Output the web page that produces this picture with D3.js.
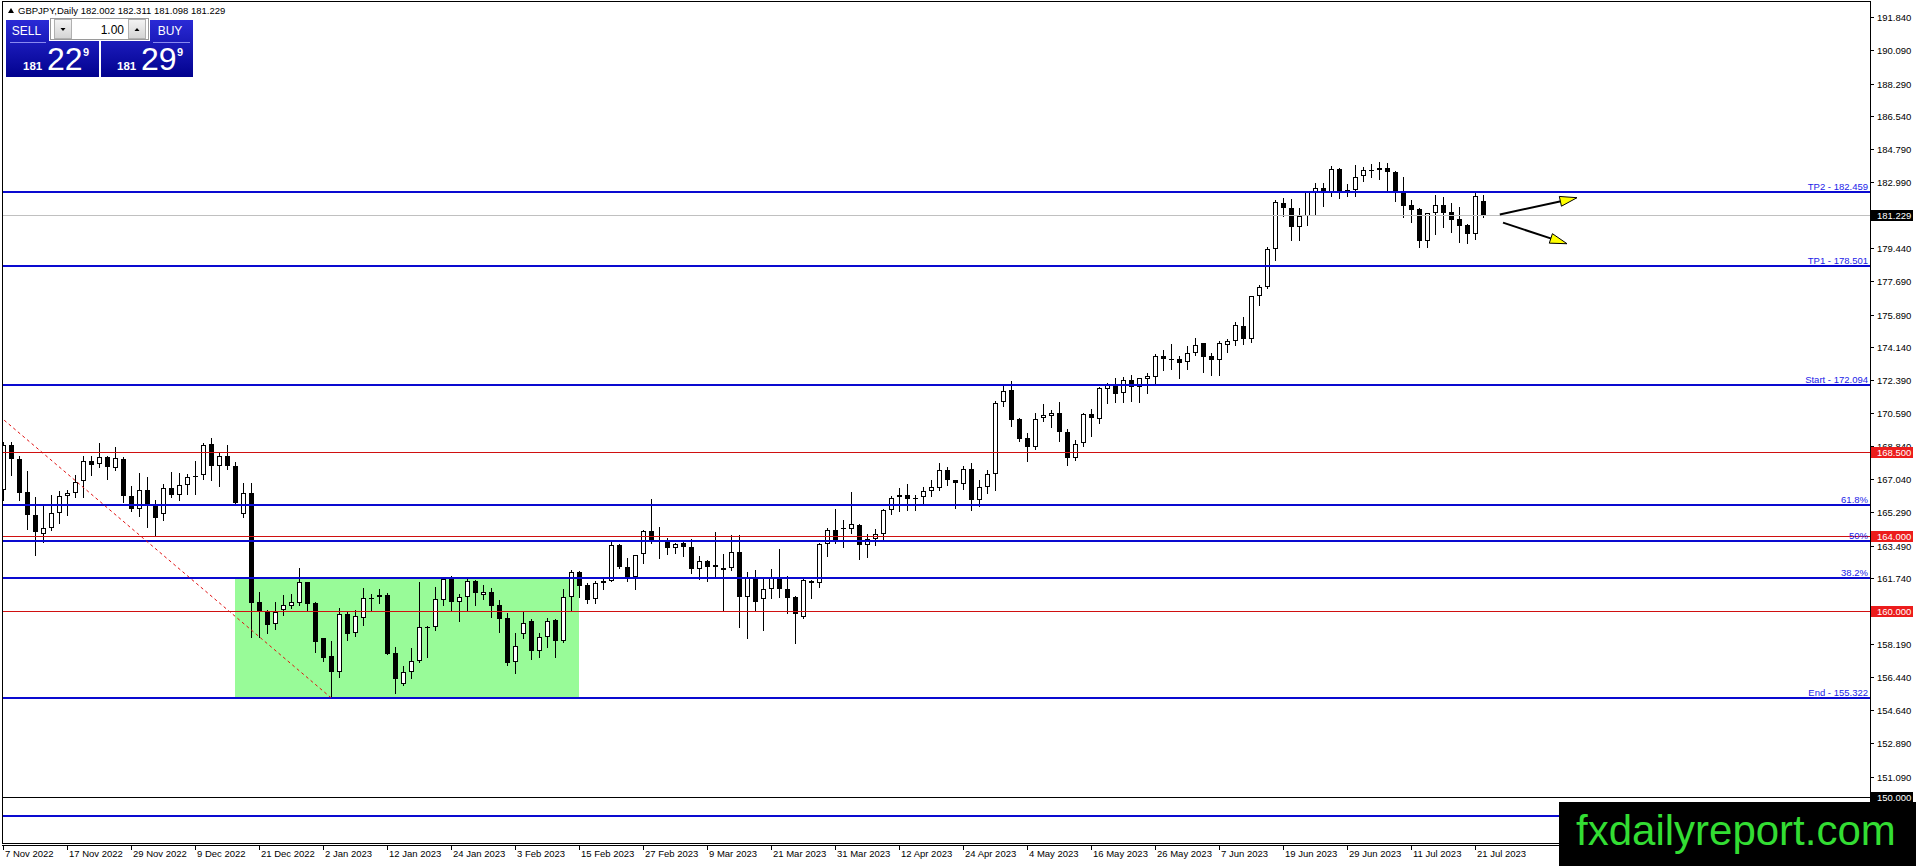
<!DOCTYPE html>
<html>
<head>
<meta charset="utf-8">
<script src="https://cdn.jsdelivr.net/npm/d3@7"></script>
<style>
  html, body { margin: 0; padding: 0; background: #fff; overflow: hidden; }
  svg { display: block; font-family: 'Liberation Sans', Arial, sans-serif; }
</style>
</head>
<body>
<div id="chart"></div>
<script>
const symbol = 'GBPJPY,Daily';

// one label every 8 daily bars, first bar = 7 Nov 2022
const dateLabels = [
  '7 Nov 2022', '17 Nov 2022', '29 Nov 2022', '9 Dec 2022', '21 Dec 2022',
  '2 Jan 2023', '12 Jan 2023', '24 Jan 2023', '3 Feb 2023', '15 Feb 2023',
  '27 Feb 2023', '9 Mar 2023', '21 Mar 2023', '31 Mar 2023', '12 Apr 2023',
  '24 Apr 2023', '4 May 2023', '16 May 2023', '26 May 2023', '7 Jun 2023',
  '19 Jun 2023', '29 Jun 2023', '11 Jul 2023', '21 Jul 2023',
];

const opens = [
  166.49, 168.91, 168.14, 166.38, 165.13, 164.11, 164.41, 165.24, 166.13, 166.31,
  166.94, 168.03, 167.87, 168.25, 167.64, 168.14, 166.13, 165.45, 166.46, 165.66,
  165.19, 166.58, 166.2, 166.74, 167.24, 167.26, 168.96, 167.74, 168.32, 167.78,
  165.19, 166.31, 160.45, 160.0, 159.27, 160.04, 160.23, 160.43, 161.52, 160.39,
  158.51, 157.56, 156.72, 159.82, 158.78, 159.59, 160.67, 160.72, 160.84, 157.71,
  156.04, 156.68, 157.28, 159.1, 159.1, 160.57, 161.69, 160.48, 160.72, 161.6,
  160.82, 160.98, 160.29, 159.59, 157.24, 158.74, 159.44, 157.81, 158.56, 159.48,
  158.38, 160.75, 162.06, 161.38, 160.61, 161.47, 161.58, 163.51, 162.33, 161.79,
  163.03, 164.28, 163.68, 163.8, 163.36, 163.62, 163.41, 162.22, 162.66, 162.33,
  162.19, 162.28, 163.14, 160.72, 161.79, 160.64, 161.15, 161.79, 161.15, 160.73,
  159.66, 161.6, 161.47, 163.59, 164.32, 164.41, 164.38, 164.61, 163.5, 163.84,
  164.09, 165.42, 166.08, 166.2, 166.04, 166.1, 166.4, 166.56, 167.57, 167.03,
  166.78, 167.6, 165.92, 166.63, 167.33, 171.2, 171.82, 170.26, 169.24, 168.77,
  170.33, 170.44, 170.61, 169.6, 168.2, 169.0, 170.53, 170.28, 171.91, 172.12,
  171.69, 172.39, 171.99, 172.45, 172.55, 173.65, 173.52, 173.52, 173.34, 173.82,
  174.34, 173.65, 173.47, 174.28, 174.49, 175.26, 174.6, 176.86, 177.39, 179.4,
  181.87, 181.59, 180.6, 181.2, 182.45, 182.68, 182.45, 183.71, 182.56, 182.6,
  183.31, 183.66, 183.67, 183.78, 183.53, 182.54, 181.77, 181.55, 179.85, 181.33,
  181.77, 181.37, 181.02, 180.69, 180.22, 182.002,
];

const highs = [
  169.04, 169.04, 168.28, 167.48, 166.1, 165.63, 166.22, 166.4, 166.46, 167.3,
  168.28, 168.3, 169.0, 168.3, 168.79, 168.25, 166.67, 167.39, 167.17, 165.95,
  166.79, 167.46, 167.39, 167.35, 168.03, 169.0, 169.27, 168.46, 168.86, 168.0,
  166.85, 166.85, 160.99, 160.05, 160.48, 160.81, 160.9, 162.28, 161.55, 160.48,
  158.55, 158.37, 160.13, 160.0, 160.04, 161.2, 160.9, 161.15, 160.93, 158.03,
  157.02, 157.97, 161.51, 159.17, 161.29, 161.74, 161.83, 160.9, 161.71, 161.65,
  161.38, 161.2, 160.57, 159.86, 158.78, 159.91, 159.53, 158.78, 159.59, 159.53,
  161.15, 162.15, 162.1, 161.47, 161.56, 161.74, 163.66, 163.55, 162.82, 163.0,
  164.34, 165.99, 164.48, 163.89, 163.62, 163.66, 163.84, 162.91, 162.7, 164.23,
  163.05, 164.07, 164.07, 162.06, 162.19, 161.68, 162.22, 163.3, 161.83, 160.79,
  161.68, 161.65, 163.6, 164.43, 165.45, 164.84, 166.36, 164.64, 164.13, 164.38,
  165.45, 166.13, 166.58, 166.81, 166.22, 166.63, 167.03, 167.93, 167.69, 167.03,
  167.75, 167.93, 167.03, 167.53, 171.24, 172.09, 172.32, 170.35, 169.54, 170.62,
  171.07, 170.76, 171.19, 169.72, 169.15, 170.62, 170.83, 172.02, 172.19, 172.5,
  172.55, 172.62, 172.5, 172.77, 173.76, 173.99, 174.29, 173.67, 174.2, 174.65,
  174.36, 173.81, 174.47, 174.56, 175.51, 175.78, 176.9, 177.46, 179.49, 182.06,
  182.13, 182.09, 181.59, 182.54, 182.95, 182.95, 183.85, 183.75, 182.9, 183.92,
  183.79, 183.98, 184.07, 184.03, 183.58, 183.26, 182.04, 181.59, 181.35, 182.31,
  182.18, 181.88, 181.65, 180.74, 182.49, 182.311,
];

const lows = [
  165.96, 167.3, 165.95, 164.37, 162.99, 163.66, 164.34, 164.7, 165.15, 166.1,
  166.1, 167.3, 167.69, 167.08, 167.56, 165.81, 165.33, 165.06, 164.48, 164.02,
  164.85, 166.1, 165.92, 166.28, 166.28, 167.06, 167.03, 166.67, 167.6, 165.75,
  165.03, 158.57, 158.57, 158.78, 159.01, 159.77, 160.13, 160.31, 160.04, 157.8,
  157.31, 155.322, 156.45, 158.42, 158.64, 159.23, 160.0, 160.43, 157.65, 155.59,
  156.0, 156.36, 157.25, 157.53, 158.96, 160.31, 159.95, 159.46, 159.95, 160.31,
  160.61, 159.68, 158.87, 157.08, 156.67, 158.51, 157.38, 157.53, 158.06, 157.49,
  158.33, 160.04, 160.72, 160.43, 160.43, 161.15, 161.56, 162.28, 161.61, 161.15,
  162.55, 163.62, 162.82, 163.05, 163.09, 162.91, 162.01, 161.68, 161.56, 161.86,
  160.0, 162.19, 159.14, 158.51, 160.0, 158.93, 160.66, 160.75, 159.89, 158.24,
  159.62, 160.7, 161.29, 162.91, 163.62, 163.41, 164.16, 162.76, 162.87, 163.5,
  163.8, 165.18, 165.33, 165.38, 165.38, 165.69, 166.13, 166.45, 166.76, 165.51,
  166.53, 165.42, 165.6, 166.31, 166.45, 170.97, 169.9, 169.09, 168.02, 168.65,
  170.17, 169.86, 169.09, 167.8, 168.07, 168.83, 169.36, 170.08, 171.12, 171.19,
  171.19, 171.25, 171.19, 171.66, 172.19, 172.91, 172.98, 172.5, 172.95, 173.7,
  172.8, 172.63, 172.63, 173.88, 174.28, 174.33, 174.42, 176.39, 177.29, 178.83,
  181.2, 179.9, 179.9, 180.69, 181.23, 181.7, 182.23, 182.14, 182.23, 182.23,
  183.08, 183.26, 183.17, 182.54, 182.0, 181.1, 180.83, 179.49, 179.49, 180.21,
  180.57, 180.33, 179.8, 179.72, 179.94, 181.098,
];

const closes = [
  168.91, 168.14, 166.31, 165.11, 164.22, 164.43, 165.24, 166.13, 166.31, 166.89,
  168.01, 167.8, 168.25, 167.69, 168.2, 166.13, 165.45, 166.46, 165.68, 164.97,
  166.58, 166.2, 166.74, 167.17, 167.17, 168.89, 167.74, 168.32, 167.74, 165.77,
  166.31, 160.43, 159.95, 159.23, 159.91, 160.29, 160.45, 161.52, 160.34, 158.33,
  157.43, 156.72, 159.82, 158.74, 159.71, 160.67, 160.6, 160.84, 157.69, 156.31,
  156.68, 157.28, 159.1, 159.12, 160.61, 161.69, 160.47, 160.72, 161.6, 160.93,
  161.0, 160.22, 159.57, 157.2, 158.1, 159.35, 157.85, 158.56, 159.46, 158.38,
  160.72, 162.06, 161.34, 160.57, 161.47, 161.56, 163.51, 162.33, 161.79, 162.97,
  164.28, 163.66, 163.79, 163.34, 163.57, 163.39, 162.22, 162.66, 162.33, 162.44,
  162.3, 163.14, 160.72, 161.79, 160.48, 161.15, 161.79, 161.15, 160.7, 159.84,
  161.65, 161.47, 163.59, 164.32, 163.8, 164.4, 164.64, 163.5, 163.84, 164.09,
  165.42, 166.06, 166.2, 165.97, 166.0, 166.4, 166.63, 167.57, 166.99, 166.83,
  167.6, 165.92, 166.63, 167.33, 171.15, 171.81, 170.22, 169.22, 168.77, 170.29,
  170.47, 170.63, 169.58, 168.18, 168.95, 170.53, 170.33, 171.93, 172.12, 171.62,
  172.39, 171.99, 172.46, 172.57, 173.67, 173.5, 173.5, 173.31, 173.84, 174.24,
  173.61, 173.45, 174.35, 174.49, 175.35, 174.6, 176.86, 177.39, 179.4, 181.91,
  181.62, 180.6, 181.2, 182.45, 182.7, 182.45, 183.71, 182.54, 182.6, 183.26,
  183.63, 183.67, 183.78, 183.53, 182.45, 181.73, 181.52, 179.85, 181.33, 181.77,
  181.33, 180.98, 180.66, 180.22, 182.27, 181.229,
];

const priceTicks = [
  191.84, 190.09, 188.29, 186.54, 184.79, 182.99, 179.44, 177.69, 175.89, 174.14,
  172.39, 170.59, 168.84, 167.04, 165.29, 163.49, 161.74, 158.19, 156.44, 154.64,
  152.89, 151.09,
];

// fibonacci object: anchors in (bar index, price)
const fibStart = [-5, 172.094];
const fibEnd = [41, 155.322];
const fibRatios = [0.618, 0.5, 0.382];
const fibNames = ['61.8%', '50%', '38.2%'];

const targetLevels = [182.459, 178.501];
const targetNames = ['TP2 - 182.459', 'TP1 - 178.501'];
const extraLevel = 148.95;

const redLevels = [168.5, 164.0, 160.0];
const blackLevel = 150.0;
const bidPrice = 181.229;

// consolidation box: bar range and price range
const zoneBars = [29, 72];
const zonePrices = [161.729, 155.322];

// arrows: [from, to] as (bar index, price)
const arrowUp = [[187.1, 181.26], [196.75, 182.16]];
const arrowDown = [[187.5, 180.82], [195.5, 179.69]];

const sellPrice = ['181', '22', '9'];
const buyPrice = ['181', '29', '9'];
const lotSize = '1.00';

const W = 1916;
const H = 866;
const plot = { left: 2, top: 1, right: 1870, bottom: 843 };
const fmt = d3.format('.3f');

const x = d3.scaleLinear().domain([0, 185]).range([3, 1483]);
const y = d3.scaleLinear().domain([150, 191.84]).range([796.85, 17.37]);

const bars = opens.map((o, i) => ({ i, o, h: highs[i], l: lows[i], c: closes[i] }));

const svg = d3
  .select('#chart')
  .append('svg')
  .attr('width', W)
  .attr('height', H);

const defs = svg.append('defs');
defs
  .append('clipPath')
  .attr('id', 'plot-clip')
  .append('rect')
  .attr('x', plot.left)
  .attr('y', plot.top)
  .attr('width', plot.right - plot.left)
  .attr('height', plot.bottom - plot.top);

const grad = defs
  .append('linearGradient')
  .attr('id', 'blue-grad')
  .attr('x1', 0)
  .attr('y1', 0)
  .attr('x2', 0)
  .attr('y2', 1);
grad.append('stop').attr('offset', '0%').attr('stop-color', '#2a2ad6');
grad.append('stop').attr('offset', '100%').attr('stop-color', '#02028e');

const btnGrad = defs
  .append('linearGradient')
  .attr('id', 'btn-grad')
  .attr('x1', 0)
  .attr('y1', 0)
  .attr('x2', 0)
  .attr('y2', 1);
btnGrad.append('stop').attr('offset', '0%').attr('stop-color', '#f4f4f4');
btnGrad.append('stop').attr('offset', '100%').attr('stop-color', '#d4d4d4');

svg.append('rect').attr('width', W).attr('height', H).attr('fill', '#fff');

const g = svg.append('g').attr('clip-path', 'url(#plot-clip)');

// green consolidation box (drawn as background)
g.append('rect')
  .attr('x', x(zoneBars[0]))
  .attr('y', Math.round(y(zonePrices[0])))
  .attr('width', x(zoneBars[1]) - x(zoneBars[0]))
  .attr('height', Math.round(y(zonePrices[1])) - Math.round(y(zonePrices[0])))
  .attr('fill', '#98fb98');

// candles
const candle = g
  .selectAll('.candle')
  .data(bars)
  .enter()
  .append('g')
  .attr('class', 'candle')
  .attr('shape-rendering', 'crispEdges');

candle
  .append('line')
  .attr('x1', (d) => Math.round(x(d.i)) + 0.5)
  .attr('x2', (d) => Math.round(x(d.i)) + 0.5)
  .attr('y1', (d) => Math.round(y(d.h)))
  .attr('y2', (d) => Math.round(y(d.l)) + 1)
  .attr('stroke', '#000')
  .attr('stroke-width', 1);

candle.each(function (d) {
  const cx = Math.round(x(d.i));
  const top = Math.round(y(Math.max(d.o, d.c)));
  const bottom = Math.round(y(Math.min(d.o, d.c)));
  const sel = d3.select(this);
  if (bottom - top <= 1) {
    sel
      .append('line')
      .attr('x1', cx - 2)
      .attr('x2', cx + 3)
      .attr('y1', top + 0.5)
      .attr('y2', top + 0.5)
      .attr('stroke', '#000');
  } else {
    sel
      .append('rect')
      .attr('x', cx - 1.5)
      .attr('y', top + 0.5)
      .attr('width', 4)
      .attr('height', bottom - top - 1)
      .attr('fill', d.c >= d.o ? '#fff' : '#000')
      .attr('stroke', '#000')
      .attr('stroke-width', 1);
  }
});

// horizontal objects
const fibLevels = fibRatios.map((r) => fibEnd[1] + r * (fibStart[1] - fibEnd[1]));
const blueLevels = [...targetLevels, fibStart[1], ...fibLevels, fibEnd[1], extraLevel];
const blueNames = [...targetNames, 'Start - ' + fmt(fibStart[1]), ...fibNames, 'End - ' + fmt(fibEnd[1]), ''];

g.append('line')
  .attr('x1', plot.left)
  .attr('x2', plot.right)
  .attr('y1', Math.round(y(bidPrice)) + 0.5)
  .attr('y2', Math.round(y(bidPrice)) + 0.5)
  .attr('stroke', '#c0c0c0')
  .attr('shape-rendering', 'crispEdges');

g.selectAll('.red-level')
  .data(redLevels)
  .enter()
  .append('line')
  .attr('class', 'red-level')
  .attr('x1', plot.left)
  .attr('x2', plot.right)
  .attr('y1', (d) => Math.round(y(d)) + 0.5)
  .attr('y2', (d) => Math.round(y(d)) + 0.5)
  .attr('stroke', '#d01010')
  .attr('shape-rendering', 'crispEdges');

g.append('line')
  .attr('x1', plot.left)
  .attr('x2', plot.right)
  .attr('y1', Math.round(y(blackLevel)) + 0.5)
  .attr('y2', Math.round(y(blackLevel)) + 0.5)
  .attr('stroke', '#000')
  .attr('shape-rendering', 'crispEdges');

g.selectAll('.blue-level')
  .data(blueLevels)
  .enter()
  .append('line')
  .attr('class', 'blue-level')
  .attr('x1', plot.left)
  .attr('x2', plot.right)
  .attr('y1', (d) => Math.round(y(d)))
  .attr('y2', (d) => Math.round(y(d)))
  .attr('stroke', '#0a0ad0')
  .attr('stroke-width', 2)
  .attr('shape-rendering', 'crispEdges');

g.selectAll('.blue-label')
  .data(blueLevels)
  .enter()
  .append('text')
  .attr('class', 'blue-label')
  .attr('x', plot.right - 2)
  .attr('y', (d) => Math.round(y(d)) - 2)
  .attr('text-anchor', 'end')
  .style('font-size', '9.5px')
  .attr('fill', '#2222e8')
  .text((d, i) => blueNames[i]);

// fib trend line
g.append('line')
  .attr('x1', x(fibStart[0]))
  .attr('y1', y(fibStart[1]))
  .attr('x2', x(fibEnd[0]))
  .attr('y2', y(fibEnd[1]))
  .attr('stroke', '#e01010')
  .attr('stroke-width', 1)
  .attr('stroke-dasharray', '3,3');

// arrows
const drawArrow = (pts) => {
  const x0 = x(pts[0][0]);
  const y0 = y(pts[0][1]);
  const x1 = x(pts[1][0]);
  const y1 = y(pts[1][1]);
  const len = Math.hypot(x1 - x0, y1 - y0);
  const ux = (x1 - x0) / len;
  const uy = (y1 - y0) / len;
  const headLen = 17;
  const headW = 5;
  const bx = x1 - ux * headLen;
  const by = y1 - uy * headLen;
  g.append('line')
    .attr('x1', x0)
    .attr('y1', y0)
    .attr('x2', bx + ux * 3)
    .attr('y2', by + uy * 3)
    .attr('stroke', '#000')
    .attr('stroke-width', 2);
  g.append('polygon')
    .attr(
      'points',
      [
        [x1, y1],
        [bx - uy * headW, by + ux * headW],
        [bx + uy * headW, by - ux * headW],
      ].join(' ')
    )
    .attr('fill', '#ffff00')
    .attr('stroke', '#000')
    .attr('stroke-width', 1);
};
drawArrow(arrowUp);
drawArrow(arrowDown);

// frame
svg
  .append('rect')
  .attr('x', plot.left + 0.5)
  .attr('y', plot.top + 0.5)
  .attr('width', plot.right - plot.left)
  .attr('height', plot.bottom - plot.top)
  .attr('fill', 'none')
  .attr('stroke', '#000')
  .attr('shape-rendering', 'crispEdges');
svg
  .append('line')
  .attr('x1', plot.left)
  .attr('x2', plot.right)
  .attr('y1', plot.bottom + 2.5)
  .attr('y2', plot.bottom + 2.5)
  .attr('stroke', '#000')
  .attr('shape-rendering', 'crispEdges');

// price axis
const axisR = svg.append('g').attr('shape-rendering', 'crispEdges');
axisR
  .selectAll('.ptick')
  .data(priceTicks)
  .enter()
  .append('line')
  .attr('x1', plot.right)
  .attr('x2', plot.right + 4)
  .attr('y1', (d) => Math.round(y(d)) + 0.5)
  .attr('y2', (d) => Math.round(y(d)) + 0.5)
  .attr('stroke', '#000');

axisR
  .selectAll('.plabel')
  .data(priceTicks)
  .enter()
  .append('text')
  .attr('x', plot.right + 7)
  .attr('y', (d) => Math.round(y(d)) + 4)
  .style('font-size', '9.5px')
  .attr('fill', '#000')
  .text((d) => fmt(d));

const priceBox = (value, color) => {
  const cy = Math.round(y(value));
  axisR
    .append('rect')
    .attr('x', plot.right + 1)
    .attr('y', cy - 5)
    .attr('width', 42)
    .attr('height', 11)
    .attr('fill', color);
  axisR
    .append('text')
    .attr('x', plot.right + 7)
    .attr('y', cy + 4)
    .style('font-size', '9.5px')
    .attr('fill', '#fff')
    .text(fmt(value));
};
redLevels.forEach((v) => priceBox(v, '#ec1c1c'));
priceBox(bidPrice, '#000');
priceBox(blackLevel, '#000');

// time axis
const axisB = svg.append('g');
axisB
  .selectAll('.dtick')
  .data(dateLabels)
  .enter()
  .append('line')
  .attr('x1', (d, i) => Math.round(x(i * 8)) + 0.5)
  .attr('x2', (d, i) => Math.round(x(i * 8)) + 0.5)
  .attr('y1', plot.bottom + 2)
  .attr('y2', plot.bottom + 7)
  .attr('stroke', '#000')
  .attr('shape-rendering', 'crispEdges');

axisB
  .selectAll('.dlabel')
  .data(dateLabels)
  .enter()
  .append('text')
  .attr('x', (d, i) => Math.round(x(i * 8)) + 2)
  .attr('y', plot.bottom + 14)
  .style('font-size', '9.5px')
  .attr('fill', '#000')
  .text((d) => d);

// header line
const last = bars[bars.length - 1];
svg
  .append('polygon')
  .attr('points', '8,13 11,8 14,13')
  .attr('fill', '#000');
svg
  .append('text')
  .attr('x', 18)
  .attr('y', 14)
  .style('font-size', '9.5px')
  .attr('fill', '#000')
  .text(symbol + '  ' + [last.o, last.h, last.l, last.c].map(fmt).join(' '));

// one-click trading panel
const panel = svg.append('g');
panel
  .append('path')
  .attr('d', 'M6,20 H49 V41 H99 V77 H6 Z')
  .attr('fill', 'url(#blue-grad)');
panel
  .append('path')
  .attr('d', 'M150,20 H193 V77 H101 V41 H150 Z')
  .attr('fill', 'url(#blue-grad)');
panel
  .append('line')
  .attr('x1', 10)
  .attr('x2', 46)
  .attr('y1', 42.5)
  .attr('y2', 42.5)
  .attr('stroke', '#8a8af0');
panel
  .append('line')
  .attr('x1', 153)
  .attr('x2', 190)
  .attr('y1', 42.5)
  .attr('y2', 42.5)
  .attr('stroke', '#8a8af0');
panel
  .append('rect')
  .attr('x', 50.5)
  .attr('y', 18.5)
  .attr('width', 98)
  .attr('height', 21)
  .attr('fill', '#fff')
  .attr('stroke', '#9a9a9a');
[54, 128].forEach((bx) => {
  panel
    .append('rect')
    .attr('x', bx + 0.5)
    .attr('y', 19.5)
    .attr('width', 17)
    .attr('height', 19)
    .attr('fill', 'url(#btn-grad)')
    .attr('stroke', '#b0b0b0');
});
panel.append('polygon').attr('points', '60.5,28 65.5,28 63,31').attr('fill', '#000');
panel.append('polygon').attr('points', '134.5,31 139.5,31 137,28').attr('fill', '#000');
panel
  .append('text')
  .attr('x', 124)
  .attr('y', 34)
  .attr('text-anchor', 'end')
  .style('font-size', '12px')
  .attr('fill', '#000')
  .text(lotSize);
panel
  .append('text')
  .attr('x', 26.5)
  .attr('y', 35)
  .attr('text-anchor', 'middle')
  .style('font-size', '12px')
  .attr('fill', '#fff')
  .text('SELL');
panel
  .append('text')
  .attr('x', 170)
  .attr('y', 35)
  .attr('text-anchor', 'middle')
  .style('font-size', '12px')
  .attr('fill', '#fff')
  .text('BUY');

const quote = (parts, x0) => {
  panel
    .append('text')
    .attr('x', x0)
    .attr('y', 70)
    .style('font-size', '11.5px')
    .style('font-weight', 'bold')
    .attr('fill', '#fff')
    .text(parts[0]);
  panel
    .append('text')
    .attr('x', x0 + 24)
    .attr('y', 70)
    .style('font-size', '32px')
    .attr('fill', '#fff')
    .text(parts[1]);
  panel
    .append('text')
    .attr('x', x0 + 60)
    .attr('y', 56)
    .style('font-size', '11px')
    .style('font-weight', 'bold')
    .attr('fill', '#fff')
    .text(parts[2]);
};
quote(sellPrice, 23);
quote(buyPrice, 117);

// watermark
svg
  .append('rect')
  .attr('x', 1559)
  .attr('y', 802)
  .attr('width', W - 1559)
  .attr('height', H - 802)
  .attr('fill', '#000');
svg
  .append('text')
  .attr('x', 1576)
  .attr('y', 845)
  .style('font-size', '42px')
  .attr('fill', '#33dd33')
  .text('fxdailyreport.com');
</script>
</body>
</html>
